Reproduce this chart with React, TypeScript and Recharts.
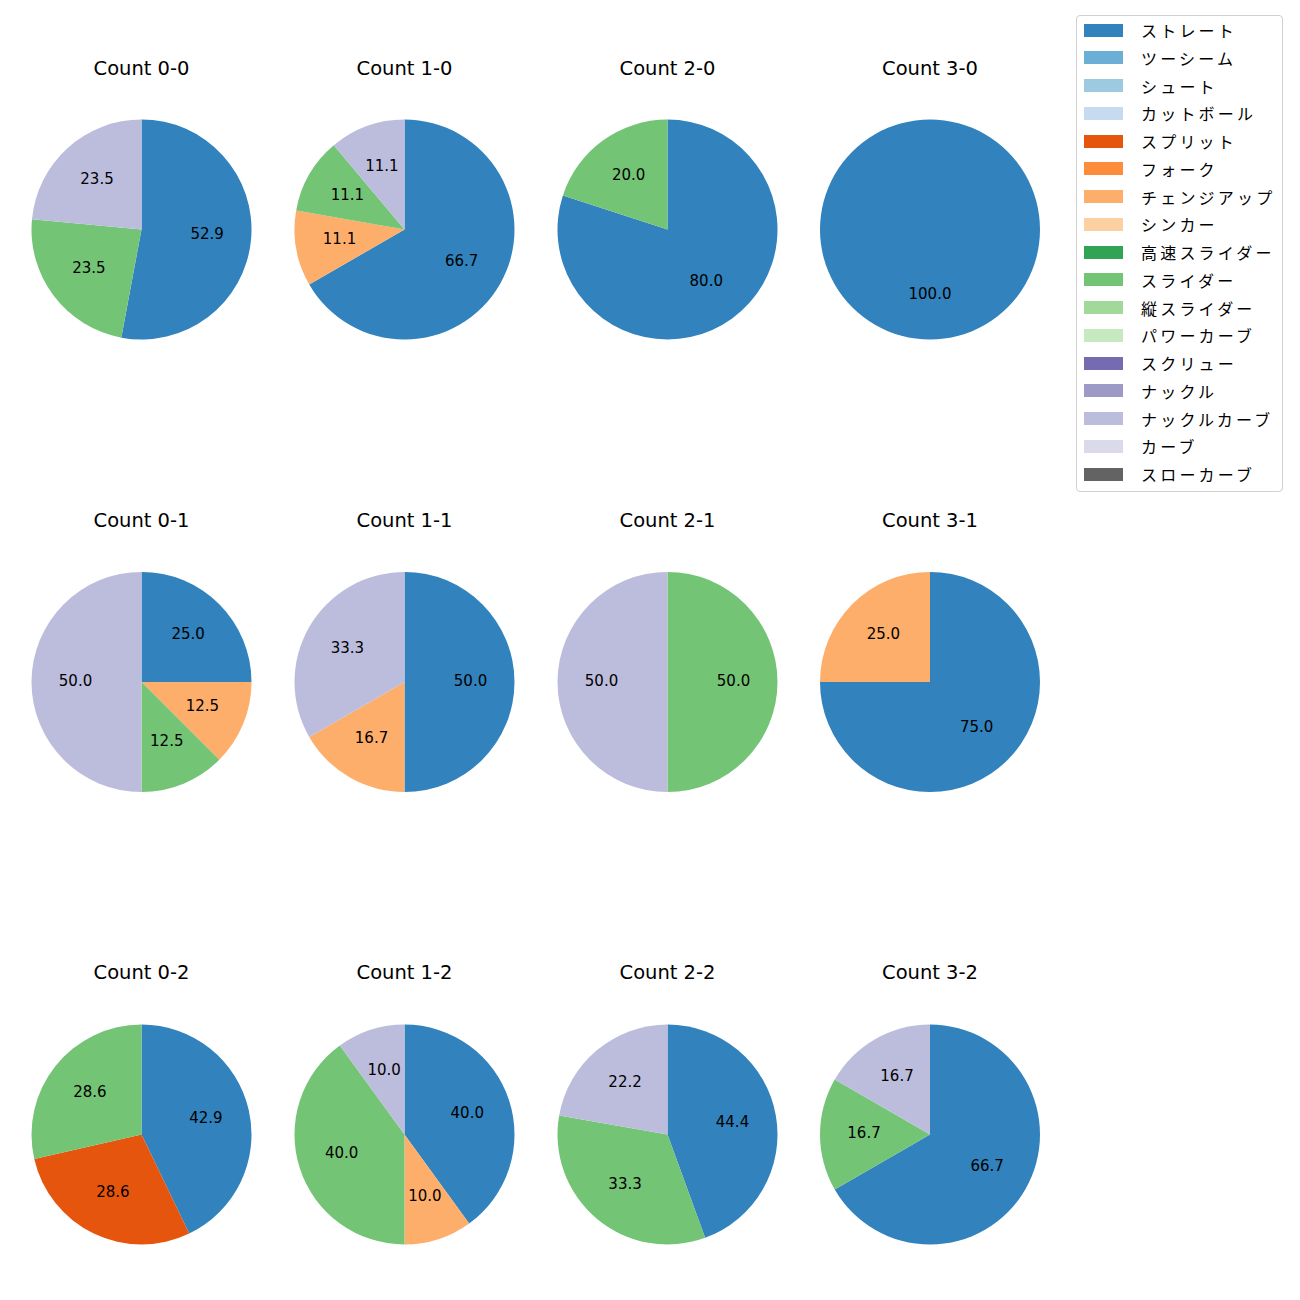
import React from "react";
import { PieChart, Pie, Cell } from "recharts";

const pitchTypes = [
  "ストレート", "ツーシーム", "シュート", "カットボール", "スプリット", "フォーク",
  "チェンジアップ", "シンカー", "高速スライダー", "スライダー", "縦スライダー",
  "パワーカーブ", "スクリュー", "ナックル", "ナックルカーブ", "カーブ", "スローカーブ",
];
const pitchColors = [
  "#3182bd", "#6baed6", "#9ecae1", "#c6dbef", "#e6550d", "#fd8d3c", "#fdae6b",
  "#fdd0a2", "#31a354", "#74c476", "#a1d99b", "#c7e9c0", "#756bb1", "#9e9ac8",
  "#bcbddc", "#dadaeb", "#636363",
];

const countTitles = [
  "Count 0-0", "Count 1-0", "Count 2-0", "Count 3-0",
  "Count 0-1", "Count 1-1", "Count 2-1", "Count 3-1",
  "Count 0-2", "Count 1-2", "Count 2-2", "Count 3-2",
];

// pitch counts per ball-strike count, aligned with pitchTypes
const count00 = [9, 0, 0, 0, 0, 0, 0, 0, 0, 4, 0, 0, 0, 0, 4, 0, 0];
const count10 = [6, 0, 0, 0, 0, 0, 1, 0, 0, 1, 0, 0, 0, 0, 1, 0, 0];
const count20 = [4, 0, 0, 0, 0, 0, 0, 0, 0, 1, 0, 0, 0, 0, 0, 0, 0];
const count30 = [1, 0, 0, 0, 0, 0, 0, 0, 0, 0, 0, 0, 0, 0, 0, 0, 0];
const count01 = [2, 0, 0, 0, 0, 0, 1, 0, 0, 1, 0, 0, 0, 0, 4, 0, 0];
const count11 = [3, 0, 0, 0, 0, 0, 1, 0, 0, 0, 0, 0, 0, 0, 2, 0, 0];
const count21 = [0, 0, 0, 0, 0, 0, 0, 0, 0, 1, 0, 0, 0, 0, 1, 0, 0];
const count31 = [3, 0, 0, 0, 0, 0, 1, 0, 0, 0, 0, 0, 0, 0, 0, 0, 0];
const count02 = [3, 0, 0, 0, 2, 0, 0, 0, 0, 2, 0, 0, 0, 0, 0, 0, 0];
const count12 = [4, 0, 0, 0, 0, 0, 1, 0, 0, 4, 0, 0, 0, 0, 1, 0, 0];
const count22 = [4, 0, 0, 0, 0, 0, 0, 0, 0, 3, 0, 0, 0, 0, 2, 0, 0];
const count32 = [4, 0, 0, 0, 0, 0, 0, 0, 0, 1, 0, 0, 0, 0, 1, 0, 0];

const allCounts = [
  count00, count10, count20, count30,
  count01, count11, count21, count31,
  count02, count12, count22, count32,
];

// layout
const colX = [141.5, 404.5, 667.5, 930];
const rowY = [229.5, 682, 1134.5];
const titleY = [69, 521, 973];
const RADIUS = 110;
const LATIN_FONT = "'DejaVu Sans', 'Noto Sans CJK JP', sans-serif";
const CJK_FONT = "'Noto Sans CJK JP', 'DejaVu Sans', sans-serif";
const RADIAN = Math.PI / 180;

const renderLabel = (props: any) => {
  const { cx, cy, midAngle, outerRadius, percent } = props;
  const r = outerRadius * 0.6;
  const x = cx + r * Math.cos(-midAngle * RADIAN);
  const y = cy + r * Math.sin(-midAngle * RADIAN) - 1.5;
  return (
    <text
      x={x}
      y={y}
      fill="#000"
      textAnchor="middle"
      dominantBaseline="central"
      fontSize={15}
      fontFamily={LATIN_FONT}
    >
      {(percent * 100).toFixed(1)}
    </text>
  );
};

export default function App() {
  return (
    <div style={{ position: "absolute", left: 0, top: 0, width: 1300, height: 1300, background: "#fff" }}>
      <PieChart width={1300} height={1300} margin={{ top: 0, right: 0, bottom: 0, left: 0 }}>
        {allCounts.map((vals, i) => {
          const data = vals
            .map((v, k) => ({ name: pitchTypes[k], value: v, color: pitchColors[k] }))
            .filter((d) => d.value > 0);
          return (
            <Pie
              key={i}
              data={data}
              dataKey="value"
              nameKey="name"
              cx={colX[i % 4]}
              cy={rowY[Math.floor(i / 4)]}
              outerRadius={RADIUS}
              innerRadius={0}
              startAngle={90}
              endAngle={-270}
              stroke="none"
              label={renderLabel}
              labelLine={false}
              isAnimationActive={false}
            >
              {data.map((d, k) => (
                <Cell key={k} fill={d.color} stroke="none" />
              ))}
            </Pie>
          );
        })}
      </PieChart>
      {countTitles.map((t, i) => (
        <div
          key={t}
          style={{
            position: "absolute",
            left: colX[i % 4] - 100,
            width: 200,
            top: titleY[Math.floor(i / 4)] - 12,
            height: 24,
            lineHeight: "24px",
            textAlign: "center",
            fontSize: 19.5,
            fontFamily: LATIN_FONT,
            color: "#000",
          }}
        >
          {t}
        </div>
      ))}
      <div
        style={{
          position: "absolute",
          left: 1076,
          top: 15,
          width: 207,
          height: 477,
          border: "1px solid #d0d0d0",
          borderRadius: 4,
          boxSizing: "border-box",
          background: "#fff",
        }}
      >
        {pitchTypes.map((p, k) => (
          <div
            key={p}
            style={{
              position: "absolute",
              left: 0,
              top: k * 27.75,
              height: 28,
              width: 205,
              display: "flex",
              alignItems: "center",
            }}
          >
            <div style={{ marginLeft: 7, width: 39, height: 13, background: pitchColors[k] }} />
            <div
              style={{
                marginLeft: 18,
                fontSize: 16,
                letterSpacing: 3.2,
                fontFamily: CJK_FONT,
                color: "#000",
                whiteSpace: "nowrap",
              }}
            >
              {p}
            </div>
          </div>
        ))}
      </div>
    </div>
  );
}
